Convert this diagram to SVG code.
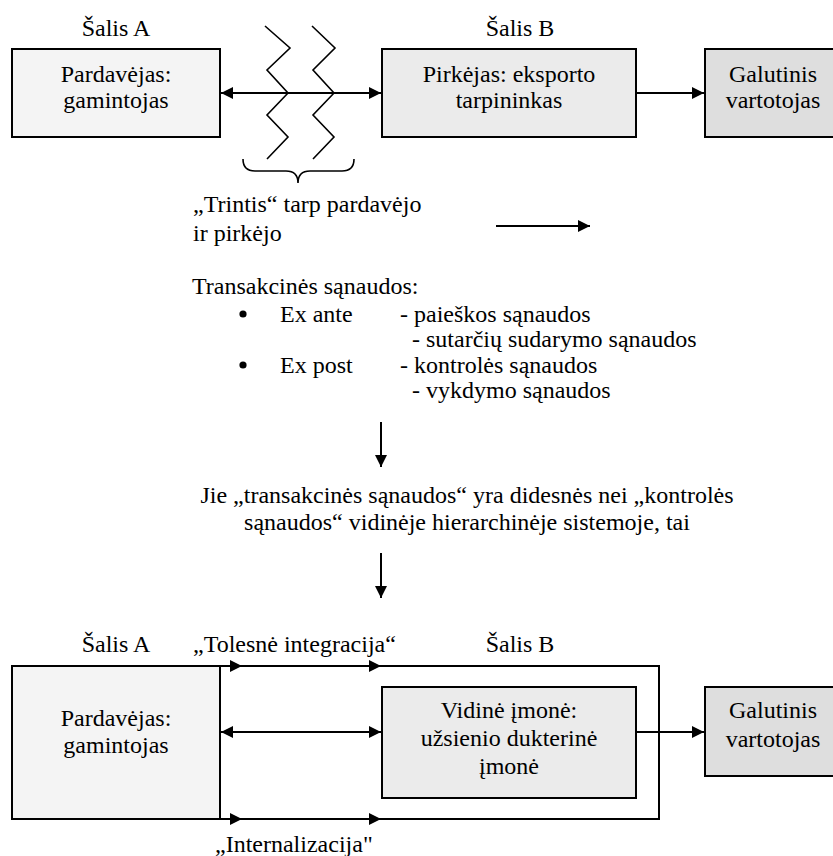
<svg xmlns="http://www.w3.org/2000/svg" width="833" height="856" viewBox="0 0 833 856">
<style>
text{font-family:'Liberation Serif','Times New Roman',serif;font-size:24px;fill:#000}
.c{text-anchor:middle}
.box{stroke:#000;stroke-width:2}
.ln{stroke:#000;stroke-width:2;fill:none}
.thin{stroke:#000;stroke-width:1.6;fill:none}
.dot{fill:#000}
</style>
<defs>
<marker id="ah" viewBox="0 0 12 12" refX="12" refY="6" markerWidth="12" markerHeight="12" markerUnits="userSpaceOnUse" orient="auto-start-reverse">
<path d="M0,0 L12,6 L0,12 Z" fill="#000"/>
</marker>
</defs>
<rect width="833" height="856" fill="#fff"/>

<g id="labels-top">
<text class="c" x="116" y="36">Šalis A</text>
<text class="c" x="520" y="36">Šalis B</text>
</g>

<g id="seller-top">
<rect class="box" x="12" y="49" width="208" height="88" fill="#f4f4f4"/>
<text class="c" x="116" y="82">Pardavėjas:</text>
<text class="c" x="116" y="108">gamintojas</text>
</g>
<g id="buyer-top">
<rect class="box" x="382" y="49" width="254" height="88" fill="#ebebeb"/>
<text class="c" x="509" y="82">Pirkėjas: eksporto</text>
<text class="c" x="509" y="108">tarpininkas</text>
</g>
<g id="consumer-top">
<rect class="box" x="705" y="49" width="140" height="88" fill="#dedede"/>
<text class="c" x="773" y="82">Galutinis</text>
<text class="c" x="773" y="108">vartotojas</text>
</g>

<g id="friction">
<polyline class="thin" points="265,26 290,48 267,70 288,93 267,115 288,137 267,159"/>
<polyline class="thin" points="312,26 335,48 313,70 334,93 313,115 334,137 313,159"/>
<path class="thin" d="M243,159 Q243,171 255,171 L286,171 Q298,171 298,183 Q298,171 310,171 L342,171 Q354,171 354,159"/>
<text x="193" y="212">„Trintis“ tarp pardavėjo</text>
<text x="193" y="241">ir pirkėjo</text>
</g>

<g id="costs">
<text x="192" y="294">Transakcinės sąnaudos:</text>
<circle class="dot" cx="243" cy="314" r="3.6"/>
<text x="280" y="322">Ex ante</text>
<text x="400" y="322">- paieškos sąnaudos</text>
<text x="412" y="347">- sutarčių sudarymo sąnaudos</text>
<circle class="dot" cx="243" cy="365" r="3.6"/>
<text x="280" y="373">Ex post</text>
<text x="400" y="373">- kontrolės sąnaudos</text>
<text x="412" y="398">- vykdymo sąnaudos</text>
</g>

<g id="condition">
<text class="c" x="467" y="503">Jie „transakcinės sąnaudos“ yra didesnės nei „kontrolės</text>
<text class="c" x="467" y="530">sąnaudos“ vidinėje hierarchinėje sistemoje, tai</text>
</g>

<g id="labels-bottom">
<text class="c" x="116" y="652">Šalis A</text>
<text x="193" y="652">„Tolesnė integracija“</text>
<text class="c" x="520" y="652">Šalis B</text>
<text x="215" y="852">„Internalizacija"</text>
</g>

<g id="seller-bottom">
<rect class="box" x="12" y="666" width="208" height="153" fill="#f4f4f4"/>
<text class="c" x="116" y="726">Pardavėjas:</text>
<text class="c" x="116" y="753">gamintojas</text>
</g>
<g id="integration-frame">
<polyline class="ln" points="220,666 659,666 659,819 220,819"/>
</g>
<g id="subsidiary">
<rect class="box" x="382" y="687" width="254" height="111" fill="#ebebeb"/>
<text class="c" x="509" y="718">Vidinė įmonė:</text>
<text class="c" x="509" y="746">užsienio dukterinė</text>
<text class="c" x="509" y="774">įmonė</text>
</g>
<g id="consumer-bottom">
<rect class="box" x="705" y="687" width="140" height="89" fill="#dedede"/>
<text class="c" x="773" y="718">Galutinis</text>
<text class="c" x="773" y="747">vartotojas</text>
</g>

<g id="connectors">
<line class="ln" x1="221" y1="93" x2="381" y2="93" marker-start="url(#ah)" marker-end="url(#ah)"/>
<line class="ln" x1="636" y1="93" x2="704" y2="93" marker-end="url(#ah)"/>
<line class="ln" x1="496" y1="226" x2="590" y2="226" marker-end="url(#ah)"/>
<line class="ln" x1="381" y1="422" x2="381" y2="467" marker-end="url(#ah)"/>
<line class="ln" x1="381" y1="553" x2="381" y2="598" marker-end="url(#ah)"/>
<line class="ln" x1="220" y1="666" x2="242" y2="666" marker-end="url(#ah)"/>
<line class="ln" x1="242" y1="666" x2="381" y2="666" marker-end="url(#ah)"/>
<line class="ln" x1="220" y1="819" x2="242" y2="819" marker-end="url(#ah)"/>
<line class="ln" x1="242" y1="819" x2="381" y2="819" marker-end="url(#ah)"/>
<line class="ln" x1="221" y1="732" x2="381" y2="732" marker-start="url(#ah)" marker-end="url(#ah)"/>
<line class="ln" x1="636" y1="732" x2="704" y2="732" marker-end="url(#ah)"/>
</g>
</svg>
